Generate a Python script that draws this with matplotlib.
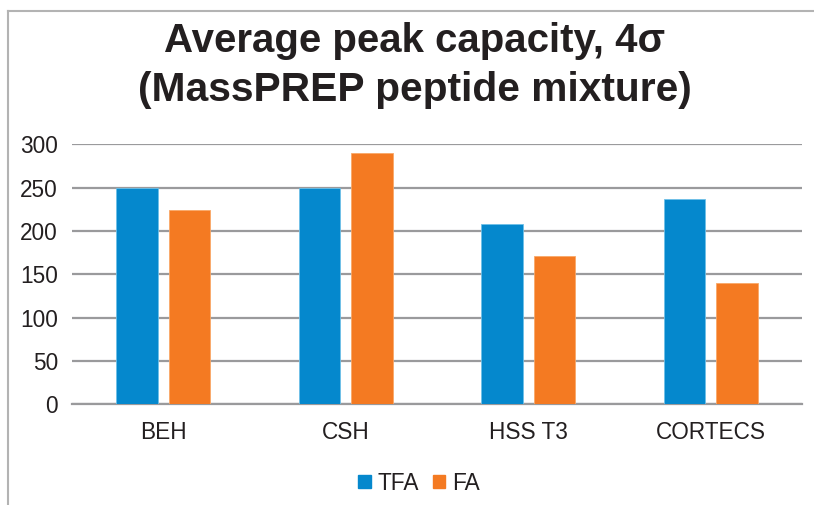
import matplotlib
matplotlib.use("Agg")
import matplotlib.pyplot as plt
import numpy as np
from matplotlib.patches import Rectangle
from matplotlib.lines import Line2D

categories = ["BEH", "CSH", "HSS T3", "CORTECS"]
tfa = [250, 250, 208, 237]
fa = [224, 290, 171, 140]
yticks = [0, 50, 100, 150, 200, 250, 300]

plt.rcParams['font.family'] = ['Liberation Sans', 'DejaVu Sans']

W, H = 814, 505
fig = plt.figure(figsize=(W/100, H/100), dpi=100)
ax = fig.add_axes([72/W, 1-404.3/H, (802-72)/W, (404.3-144.3)/H])

blue = "#0588CD"
orange = "#F47A22"
x = np.arange(len(categories))
bw = 0.225
off = 0.144
ax.bar(x - off, tfa, bw, color=blue, edgecolor="#6EC0E8", linewidth=0.6, zorder=3)
ax.bar(x + off, fa, bw, color=orange, edgecolor="#F9A868", linewidth=0.6, zorder=3)

ax.set_xlim(-0.5, len(categories) - 0.5)
ax.set_ylim(0, 300)
ax.set_yticks(yticks)
ax.set_yticklabels([str(v) for v in yticks])
ax.set_xticks(x)
ax.set_xticklabels(categories)
ax.yaxis.grid(True, color="#9A9A9C", linewidth=1.6, zorder=0)
ax.set_axisbelow(True)
for s in ["top", "right", "left"]:
    ax.spines[s].set_visible(False)
ax.spines["bottom"].set_color("#9A9A9C")
ax.spines["bottom"].set_linewidth(1.6)
ax.tick_params(axis="both", length=0, labelsize=16.3, colors="#231F20")
ax.tick_params(axis="y", pad=10)
ax.tick_params(axis="x", pad=12)

fig.text(415/W, 1-41/H, "Average peak capacity, 4σ", ha="center", va="center",
         fontsize=29, fontweight="bold", color="#231F20")
fig.text(415/W, 1-90/H, "(MassPREP peptide mixture)", ha="center", va="center",
         fontsize=29.3, fontweight="bold", color="#231F20")

handles = [Rectangle((0, 0), 1, 1, color=blue), Rectangle((0, 0), 1, 1, color=orange)]
leg = fig.legend(handles, ["TFA", "FA"], loc="center", bbox_to_anchor=(419/W, 1-483/H),
                 ncol=2, frameon=False, fontsize=16.3, handlelength=0.55, handleheight=0.55,
                 handletextpad=0.3, columnspacing=0.62, borderpad=0, borderaxespad=0)
for t in leg.get_texts():
    t.set_color("#231F20")

# outer frame
fig.add_artist(Line2D([8/W, 8/W], [0, 1-11/H], transform=fig.transFigure, color="#B3B3B3", lw=1.5))
fig.add_artist(Line2D([8/W, 1], [1-11/H, 1-11/H], transform=fig.transFigure, color="#B3B3B3", lw=1.5))

fig.savefig("out.png", dpi=100)
